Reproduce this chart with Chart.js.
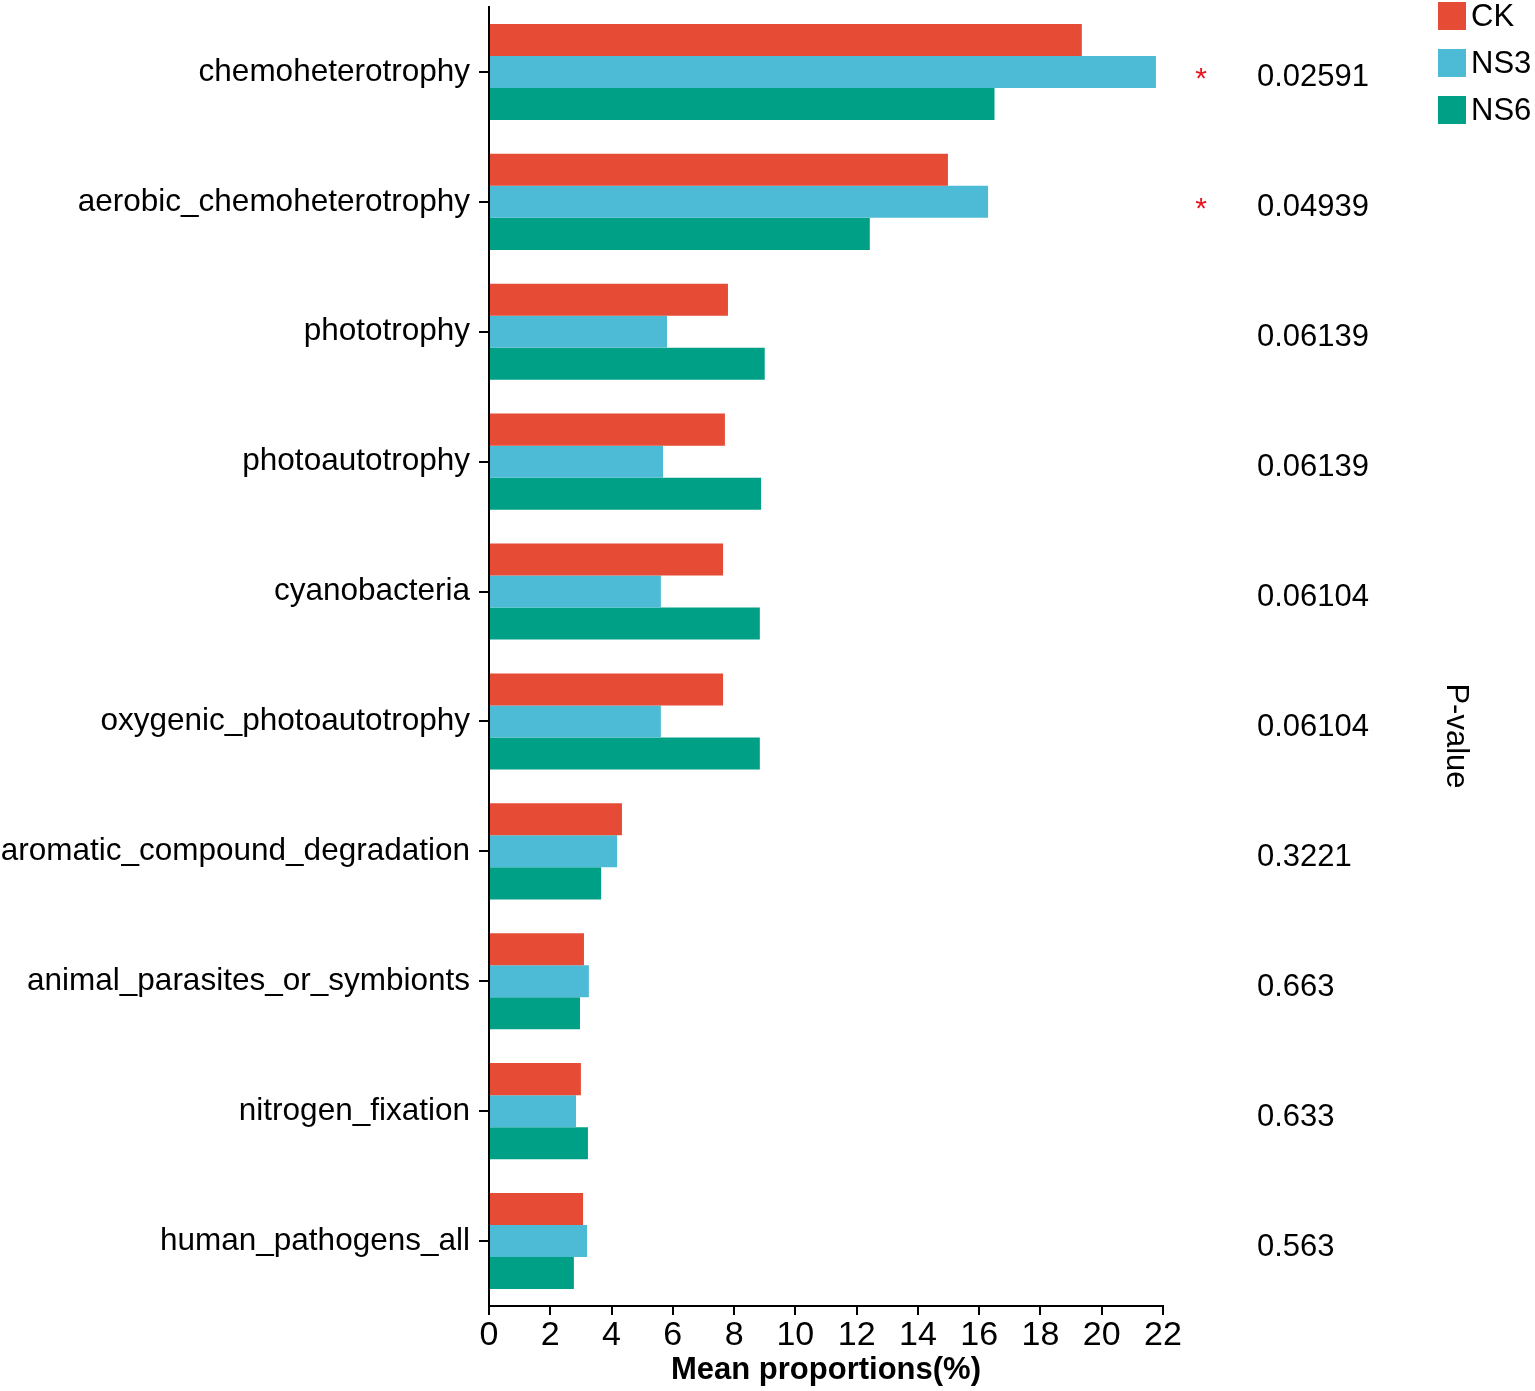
<!DOCTYPE html>
<html>
<head>
<meta charset="utf-8">
<script src="https://cdn.jsdelivr.net/npm/chart.js@4/dist/chart.umd.min.js"></script>
<style>
  html, body { margin: 0; padding: 0; background: #fff; }
  #wrap { width: 1535px; height: 1391px; }
</style>
</head>
<body>
<div id="wrap"><canvas id="chart"></canvas></div>
<script>
const categories = [
  'chemoheterotrophy', 'aerobic_chemoheterotrophy', 'phototrophy', 'photoautotrophy',
  'cyanobacteria', 'oxygenic_photoautotrophy', 'aromatic_compound_degradation',
  'animal_parasites_or_symbionts', 'nitrogen_fixation', 'human_pathogens_all'
];
const ckValues  = [19.35, 14.98, 7.80, 7.70, 7.64, 7.64, 4.34, 3.10, 3.00, 3.07];
const ns3Values = [21.77, 16.29, 5.81, 5.68, 5.61, 5.61, 4.18, 3.26, 2.84, 3.20];
const ns6Values = [16.50, 12.43, 9.00, 8.88, 8.84, 8.84, 3.66, 2.97, 3.23, 2.77];
const pValues = ['0.02591', '0.04939', '0.06139', '0.06139', '0.06104', '0.06104', '0.3221', '0.663', '0.633', '0.563'];
const stars = ['*', '*', '', '', '', '', '', '', '', ''];
const seriesNames = ['CK', 'NS3', 'NS6'];
const seriesColors = ['#E64B35', '#4DBBD5', '#00A087'];

const FONT = '"Liberation Sans", Arial, sans-serif';
const NARROW = '"Liberation Sans Narrow", "Liberation Sans", Arial, sans-serif';

// p-values, stars, side title and legend drawn beside the plot
const sidePlugin = {
  id: 'side',
  afterDraw(chart) {
    const ctx = chart.ctx;
    const y = chart.scales.y;
    ctx.save();
    ctx.textBaseline = 'middle';
    categories.forEach((c, i) => {
      const cy = y.getPixelForValue(i);
      ctx.fillStyle = '#000';
      ctx.font = '31px ' + FONT;
      ctx.textAlign = 'left';
      ctx.fillText(pValues[i], 1257, cy + 6);
      if (stars[i]) {
        ctx.fillStyle = '#E8141E';
        ctx.font = '30px ' + FONT;
        ctx.textAlign = 'center';
        ctx.fillText(stars[i], 1201, cy + 8);
      }
    });
    // rotated side title
    ctx.save();
    ctx.translate(1456, 736);
    ctx.rotate(Math.PI / 2);
    ctx.fillStyle = '#000';
    ctx.font = '31px ' + FONT;
    ctx.textAlign = 'center';
    ctx.fillText('P-value', 0, 0);
    ctx.restore();
    // legend
    seriesNames.forEach((n, i) => {
      const top = 2 + i * 47;
      ctx.fillStyle = seriesColors[i];
      ctx.fillRect(1438, top, 28, 28);
      ctx.fillStyle = '#000';
      ctx.font = '31px ' + FONT;
      ctx.textAlign = 'left';
      ctx.fillText(n, 1471, top + 15);
    });
    ctx.restore();
  }
};

new Chart(document.getElementById('chart'), {
  type: 'bar',
  data: {
    labels: categories,
    datasets: seriesNames.map((n, i) => ({
      label: n,
      data: [ckValues, ns3Values, ns6Values][i],
      backgroundColor: seriesColors[i],
      borderWidth: 0,
      categoryPercentage: 0.74,
      barPercentage: 1.0
    }))
  },
  options: {
    indexAxis: 'y',
    responsive: true,
    maintainAspectRatio: false,
    animation: false,
    layout: { padding: { top: 7, right: 372, bottom: 0, left: 0 } },
    plugins: {
      legend: { display: false },
      tooltip: { enabled: false }
    },
    scales: {
      x: {
        min: 0,
        max: 22,
        afterFit(s) { s.height = 85; s.paddingLeft = 0; s.paddingRight = 0; },
        border: { color: '#000', width: 2 },
        grid: { drawOnChartArea: false, color: '#000', tickLength: 9, lineWidth: 2 },
        ticks: {
          stepSize: 2,
          color: '#000',
          padding: 0,
          maxRotation: 0,
          font: { family: NARROW, size: 34 }
        },
        title: {
          display: true,
          text: 'Mean proportions(%)',
          color: '#000',
          padding: { top: 0, bottom: 2 },
          font: { family: FONT, size: 31, weight: 'bold' }
        }
      },
      y: {
        afterFit(s) { s.width = 489; s.paddingTop = 0; s.paddingBottom = 0; },
        border: { color: '#000', width: 2 },
        grid: { drawOnChartArea: false, offset: false, color: '#000', tickLength: 10, lineWidth: 2 },
        ticks: {
          color: '#000',
          padding: 9,
          font: { family: FONT, size: 31.5 }
        }
      }
    }
  },
  plugins: [sidePlugin]
});
</script>
</body>
</html>
